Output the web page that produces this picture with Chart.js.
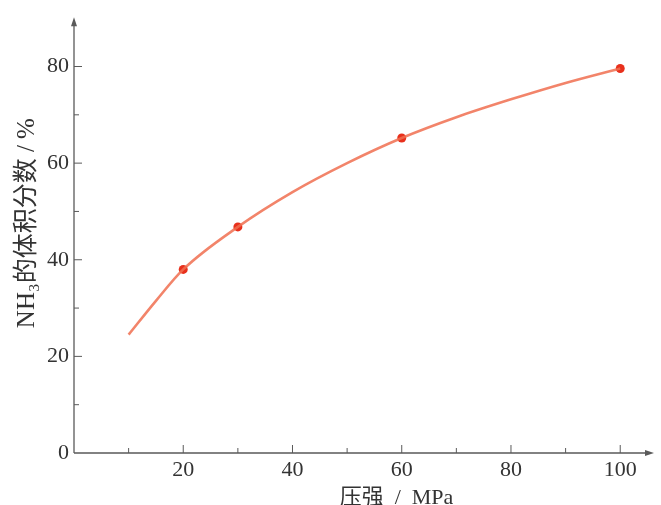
<!DOCTYPE html>
<html>
<head>
<meta charset="utf-8">
<script src="https://cdn.jsdelivr.net/npm/chart.js@4.4.1/dist/chart.umd.min.js"></script>
<style>
  html, body { margin: 0; padding: 0; background: #fff; }
  #wrap { width: 661px; height: 505px; }
</style>
</head>
<body>
<div id="wrap"><canvas id="c" width="661" height="505"></canvas></div>
<script>
// Pressure (MPa) and NH3 volume fraction (%)
const curvePressure = [10, 15, 20, 30, 40, 50, 60, 70, 80, 90, 100];
const curveFraction = [24.5, 31.5, 38, 46.8, 54, 60, 65.2, 69.5, 73.2, 76.6, 79.6];
const pointPressure = [20, 30, 60, 100];
const pointFraction = [38, 46.8, 65.2, 79.6];
const xTickValues = [0, 10, 20, 30, 40, 50, 60, 70, 80, 90, 100];
const yTickValues = [0, 10, 20, 30, 40, 50, 60, 70, 80];
const xTickLabels = [20, 40, 60, 80, 100];
const yTickLabels = [0, 20, 40, 60, 80];
const xTitle = '\u2003\u2003\u2003压强\u2002/\u2002MPa';
const yTitle = '\u2003NH₃的体积分数 / %';

const FONT = "'Liberation Serif', 'Times New Roman', 'Noto Sans CJK SC', serif";
const AXIS_COLOR = '#5a5a5a';

const axesPlugin = {
  id: 'axesPlugin',
  afterDraw(chart) {
    const ctx = chart.ctx;
    const xs = chart.scales.x, ys = chart.scales.y;
    const x0 = xs.getPixelForValue(0), y0 = ys.getPixelForValue(0);
    const xEnd = xs.getPixelForValue(xs.max), yEnd = ys.getPixelForValue(ys.max);
    ctx.save();
    ctx.strokeStyle = AXIS_COLOR;
    ctx.fillStyle = AXIS_COLOR;
    ctx.lineWidth = 1.3;
    ctx.beginPath();
    ctx.moveTo(x0, y0); ctx.lineTo(xEnd - 2, y0);
    ctx.moveTo(x0, y0); ctx.lineTo(x0, yEnd + 2);
    ctx.stroke();
    ctx.beginPath();
    ctx.moveTo(xEnd + 1, y0); ctx.lineTo(xEnd - 8, y0 - 3); ctx.lineTo(xEnd - 8, y0 + 3); ctx.closePath();
    ctx.fill();
    ctx.beginPath();
    ctx.moveTo(x0, yEnd - 1); ctx.lineTo(x0 - 3, yEnd + 8); ctx.lineTo(x0 + 3, yEnd + 8); ctx.closePath();
    ctx.fill();
    ctx.lineWidth = 1;
    xs.ticks.forEach(t => {
      if (t.value <= 0) return;
      const px = xs.getPixelForValue(t.value);
      const len = t.value % 20 === 0 ? 8 : 5;
      ctx.beginPath(); ctx.moveTo(px, y0); ctx.lineTo(px, y0 - len); ctx.stroke();
    });
    ys.ticks.forEach(t => {
      if (t.value <= 0) return;
      const py = ys.getPixelForValue(t.value);
      const len = t.value % 20 === 0 ? 8 : 5;
      ctx.beginPath(); ctx.moveTo(x0, py); ctx.lineTo(x0 + len, py); ctx.stroke();
    });
    ctx.restore();
  }
};

new Chart(document.getElementById('c'), {
  type: 'scatter',
  data: {
    datasets: [
      {
        type: 'line',
        data: curvePressure.map((p, i) => ({ x: p, y: curveFraction[i] })),
        borderColor: 'rgba(240, 110, 80, 0.85)',
        borderWidth: 2.6,
        pointRadius: 0,
        cubicInterpolationMode: 'monotone',
        fill: false
      },
      {
        data: pointPressure.map((p, i) => ({ x: p, y: pointFraction[i] })),
        backgroundColor: '#e8301c',
        borderColor: '#e8301c',
        pointRadius: 4.5,
        borderWidth: 0
      }
    ]
  },
  options: {
    responsive: false,
    animation: false,
    layout: { padding: { top: 11, right: 8, left: 15, bottom: -4 } },
    plugins: { legend: { display: false }, tooltip: { enabled: false } },
    scales: {
      x: {
        type: 'linear',
        min: 0, max: 106,
        afterBuildTicks: s => { s.ticks = xTickValues.map(v => ({ value: v })); },
        grid: { display: false, drawTicks: false, tickLength: 0 },
        border: { display: false },
        ticks: {
          autoSkip: false,
          maxRotation: 0,
          padding: 6,
          color: '#333',
          font: { family: FONT, size: 22, lineHeight: 1.0 },
          callback: v => xTickLabels.includes(v) ? String(v) : ''
        },
        title: {
          display: true,
          text: xTitle,
          color: '#333',
          font: { family: FONT, size: 22, lineHeight: 1.0 },
          padding: { top: 0, bottom: 0 }
        }
      },
      y: {
        type: 'linear',
        min: 0, max: 90,
        afterBuildTicks: s => { s.ticks = yTickValues.map(v => ({ value: v })); },
        grid: { display: false, drawTicks: false, tickLength: 0 },
        border: { display: false },
        ticks: {
          autoSkip: false,
          padding: 5,
          color: '#333',
          font: { family: FONT, size: 22 },
          callback: v => yTickLabels.includes(v) ? String(v) : ''
        },
        title: {
          display: true,
          text: yTitle,
          color: '#333',
          font: { family: FONT, size: 25, lineHeight: 1.0 },
          padding: { top: 0, bottom: 2 }
        }
      }
    }
  },
  plugins: [axesPlugin]
});
</script>
</body>
</html>
